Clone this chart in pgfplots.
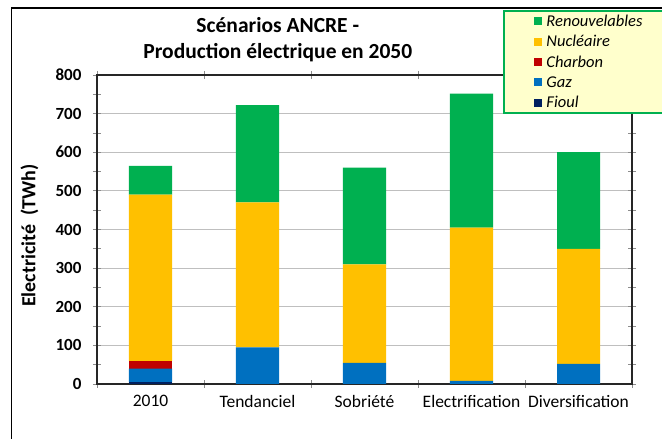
\documentclass[border=0pt]{standalone}
\usepackage{fontspec}
\setmainfont{Carlito}
\usepackage{pgfplots}
\pgfplotsset{compat=1.18}
\definecolor{cRen}{HTML}{00B050}
\definecolor{cNuc}{HTML}{FFC000}
\definecolor{cCha}{HTML}{C00000}
\definecolor{cGaz}{HTML}{0070C0}
\definecolor{cFio}{HTML}{002060}
\definecolor{cLeg}{HTML}{FFFFCC}
\begin{document}
\begin{tikzpicture}[x=1pt,y=1pt]
\useasboundingbox (0,0) rectangle (662,439);
\fill[white] (0,0) rectangle (662,439);
\draw[line width=1.5pt] (11.5,-10) -- (11.5,431) -- (690,431);
\begin{axis}[
  at={(97pt,55pt)}, anchor=south west, scale only axis,
  width=535pt, height=309pt,
  ybar stacked, bar width=43pt,
  xmin=-0.5, xmax=4.5, ymin=0, ymax=800,
  xtick={0,...,4},
  xticklabels={2010,Tendanciel,Sobriété,Electrification,Diversification},
  major x tick style={draw=none},
  minor xtick={-0.5,0.5,...,4.5},
  ytick={0,100,...,800},
  minor ytick={50,150,...,750},
  ymajorgrids,
  major grid style={color=black!25, line width=0.9pt},
  axis line style={black!85, line width=1.2pt},
  every tick/.style={black!45, line width=0.8pt},
  tick align=center,
  major tick length=8pt, minor tick length=8pt,
  /pgf/number format/assume math mode=true,
  yticklabel style={font=\bfseries\fontsize{17}{20}\selectfont, xshift=-8pt},
  xticklabel style={font=\fontsize{17.5}{20}\selectfont, yshift=-4pt},
  ylabel={Electricité\ \ (TWh)},
  ylabel style={at={(axis description cs:-0.126,0.48)}, anchor=center, font=\bfseries\fontsize{20}{24}\selectfont},
  title={Scénarios ANCRE -\\Production électrique en 2050},
  title style={at={(axis description cs:0.338,1.094)}, anchor=center, align=center, font=\bfseries\fontsize{21.5}{26}\selectfont},
  reverse legend,
  legend cell align=left,
  legend image code/.code={\fill[#1] (0pt,-4pt) rectangle (8pt,4pt);},
  legend style={at={(axis description cs:0.759,1.21)}, anchor=north west,
    fill=cLeg, draw=cRen, line width=1.8pt, inner xsep=30pt, inner ysep=2pt,
    row sep=3.5pt,
    /tikz/every odd column/.append style={column sep=2.5pt},
    font=\itshape\fontsize{16.5}{19}\selectfont},
]
\addplot[fill=cFio, draw=none] coordinates {(0,4) (1,0) (2,0) (3,0) (4,0)};
\addplot[fill=cGaz, draw=none] coordinates {(0,36) (1,95) (2,55) (3,8) (4,52)};
\addplot[fill=cCha, draw=none] coordinates {(0,20) (1,0) (2,0) (3,0) (4,0)};
\addplot[fill=cNuc, draw=none] coordinates {(0,430) (1,375) (2,255) (3,397) (4,298)};
\addplot[fill=cRen, draw=none] coordinates {(0,75) (1,252) (2,250) (3,347) (4,250)};
\legend{Fioul,Gaz,Charbon,Nucléaire,Renouvelables}
\end{axis}
\end{tikzpicture}
\end{document}
